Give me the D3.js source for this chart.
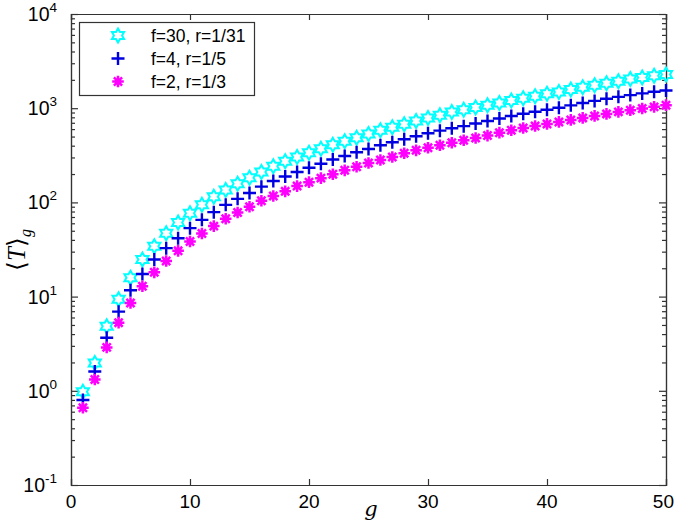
<!DOCTYPE html>
<html><head><meta charset="utf-8">
<script src="https://cdn.jsdelivr.net/npm/d3@7"></script>
<style>body{margin:0;background:#fff}svg{display:block}</style>
</head><body>
<script>
const gens = d3.range(1, 51);
const f30 = [0.98,1.97,4.83,9.4,15.9,24.8,34.3,47.1,61.2,76.9,94.2,114.7,135,158,183,210,242,273,303,337,372,410,445,487,533,583,628,676,733,789,843,910,960,1015,1076,1138,1205,1272,1342,1420,1490,1577,1672,1757,1845,1937,2036,2116,2207,2276];
const f4 = [0.80,1.60,3.66,6.92,11.7,17.4,24.8,32.7,41.7,53.3,65.3,78.8,94.2,109,126,147,169,188,210,233,257,285,311,341,369,404,435,468,503,542,578,612,645,688,730,778,825,873,917,962,1011,1072,1135,1195,1258,1320,1378,1435,1493,1541];
const f2 = [0.66,1.32,2.89,5.29,8.55,12.9,18.1,23.9,30.6,38.5,46.8,56,67,78,89.8,104,117,131,149,164,181,199,219,239,262,282,303,332,357,381,404,429,457,483,512,550,583,617,648,681,715,751,789,828,870,914,953,991,1033,1077];
const seriesNames = ["f=30, r=1/31", "f=4, r=1/5", "f=2, r=1/3"];
const xTicks = [0,10,20,30,40,50];
const yExps = [-1,0,1,2,3,4];

const W = 675, H = 527;
const m = {l:71, r:9, t:14, b:42};
const svg = d3.select("body").append("svg").attr("width", W).attr("height", H);
const x = d3.scaleLinear().domain([0,50]).range([m.l, W - m.r]);
const y = d3.scaleLog().domain([0.1, 10000]).range([H - m.b, m.t]);
const axCol = "#333";
const font = "'Liberation Sans', Arial, sans-serif";

const xb = d3.axisBottom(x).tickValues(xTicks).tickSize(-6).tickFormat("");
const xt = d3.axisTop(x).tickValues(xTicks).tickSize(-6).tickFormat("");
const majors = yExps.map(e => Math.pow(10, e));
const minors = [];
yExps.slice(0, -1).forEach(e => { for (let k = 2; k <= 9; k++) minors.push(k * Math.pow(10, e)); });
const yl = d3.axisLeft(y).tickValues(majors).tickSize(-7).tickFormat("");
const yr = d3.axisRight(y).tickValues(majors).tickSize(-7).tickFormat("");
const ylm = d3.axisLeft(y).tickValues(minors).tickSize(-4).tickFormat("");
const yrm = d3.axisRight(y).tickValues(minors).tickSize(-4).tickFormat("");
[[xb, `translate(0,${H-m.b})`],[xt, `translate(0,${m.t})`],[yl, `translate(${m.l},0)`],[yr, `translate(${W-m.r},0)`],[ylm, `translate(${m.l},0)`],[yrm, `translate(${W-m.r},0)`]].forEach(([ax, tr]) => {
  const g = svg.append("g").attr("transform", tr).call(ax);
  g.selectAll("path").attr("stroke", axCol).attr("stroke-width", 1.2);
  g.selectAll("line").attr("stroke", axCol).attr("stroke-width", 1.2);
});

// x tick labels
svg.append("g").selectAll("text").data(xTicks).join("text")
  .attr("x", d => d === 50 ? W - 1 : x(d)).attr("y", H - m.b + 23)
  .attr("text-anchor", d => d === 50 ? "end" : "middle").attr("font-family", font).attr("font-size", 19).attr("fill", "#000")
  .text(d => d);
// y tick labels
const yt = svg.append("g").selectAll("text").data(yExps).join("text")
  .attr("x", 57).attr("y", d => y(Math.pow(10, d)) + 7)
  .attr("text-anchor", "end").attr("font-family", font).attr("font-size", 19.5).attr("fill", "#000");
yt.append("tspan").text("10");
yt.append("tspan").attr("dy", -9).attr("font-size", 13.5).text(d => d);

// axis titles
svg.append("text").attr("x", 371).attr("y", 516).attr("text-anchor", "middle")
  .attr("font-family", "'DejaVu Serif', 'Liberation Serif', serif").attr("font-style", "italic").attr("font-size", 21).text("g");
const yt2 = svg.append("text").attr("transform", "translate(25,250) rotate(-90)").attr("text-anchor", "middle")
  .attr("font-family", "'Liberation Serif', serif").attr("font-size", 25);
yt2.append("tspan").text("⟨");
yt2.append("tspan").attr("font-style", "italic").text("T");
yt2.append("tspan").text("⟩");
yt2.append("tspan").attr("font-style", "italic").attr("font-size", 16).attr("dy", 6).text("g");

function hexagram(R) {
  const pts = [];
  for (let i = 0; i < 12; i++) {
    const r = i % 2 === 0 ? R : R / Math.sqrt(3);
    const a = -Math.PI / 2 + i * Math.PI / 6;
    pts.push([r * Math.cos(a), r * Math.sin(a)]);
  }
  return "M" + pts.map(p => p.join(",")).join("L") + "Z";
}
function plus(R) { return `M${-R},0L${R},0M0,${-R}L0,${R}`; }
function asterisk(R) {
  const d = R * Math.SQRT1_2;
  return `M${-R},0L${R},0M0,${-R}L0,${R}M${-d},${-d}L${d},${d}M${-d},${d}L${d},${-d}`;
}
const series = [
  {vals: f30, color: "#00FFFF", path: hexagram(7), sw: 2},
  {vals: f4, color: "#0000E0", path: plus(6.5), sw: 2.4},
  {vals: f2, color: "#FF00FF", path: asterisk(5.8), sw: 2.5}
];
series.forEach(s => {
  svg.append("g").selectAll("path").data(gens).join("path")
    .attr("transform", (d, i) => `translate(${x(d)},${y(s.vals[i])})`)
    .attr("d", s.path).attr("fill", "none").attr("stroke", s.color).attr("stroke-width", s.sw);
});

const lg = svg.append("g");
lg.append("rect").attr("x", 79.5).attr("y", 22.5).attr("width", 175).attr("height", 73)
  .attr("fill", "#fff").attr("stroke", axCol).attr("stroke-width", 1.2);
series.forEach((s, i) => {
  const yy = 35.5 + i * 23;
  lg.append("path").attr("transform", `translate(118,${yy})`).attr("d", s.path)
    .attr("fill", "none").attr("stroke", s.color).attr("stroke-width", s.sw);
  lg.append("text").attr("x", 151).attr("y", yy + 6).attr("font-family", font).attr("font-size", 17.5)
    .attr("fill", "#000").text(seriesNames[i]);
});
</script>
</body></html>
